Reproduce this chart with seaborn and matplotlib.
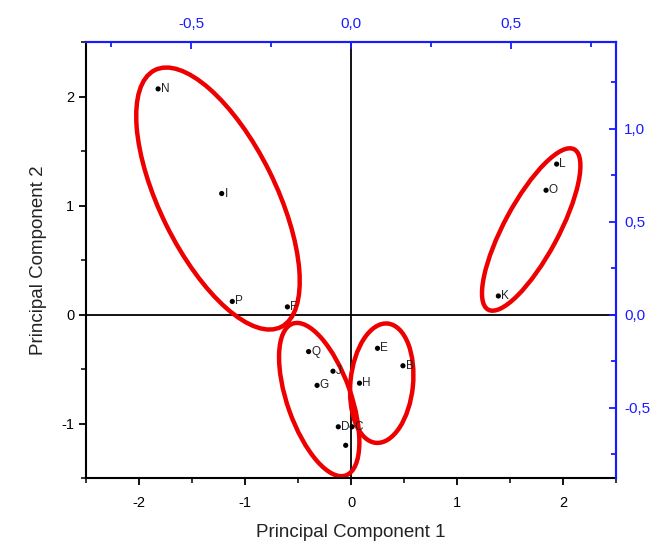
import numpy as np
import pandas as pd
import seaborn as sns
import matplotlib.pyplot as plt
from matplotlib.patches import Ellipse
from matplotlib.ticker import MultipleLocator, FuncFormatter

# sample scores on the first two principal components
labels = ['N', 'I', 'P', 'F', 'Q', 'J', 'G', 'D', 'I', 'C', 'H', 'E', 'B', 'K', 'O', 'L']
pc1 = [-1.82, -1.22, -1.12, -0.60, -0.40, -0.17, -0.32, -0.12, -0.05, 0.01, 0.08, 0.25, 0.49, 1.39, 1.84, 1.94]
pc2 = [2.07, 1.11, 0.12, 0.07, -0.34, -0.52, -0.65, -1.03, -1.20, -1.03, -0.63, -0.31, -0.47, 0.17, 1.14, 1.38]

# group ellipses: centre x, centre y, width, height, angle
ell_cx = [-1.255, -0.30, 0.29, 1.70]
ell_cy = [1.064, -0.78, -0.63, 0.78]
ell_w = [2.64, 1.48, 1.10, 1.68]
ell_h = [1.09, 0.60, 0.59, 0.51]
ell_ang = [117, 110, 84, 61]

df = pd.DataFrame({'pc1': pc1, 'pc2': pc2, 'label': labels})

sns.set_style('white')
plt.rcParams['font.family'] = ['Liberation Sans', 'DejaVu Sans']
plt.rcParams['axes.unicode_minus'] = False

fig = plt.figure(figsize=(6.57, 5.47), dpi=100)
ax = fig.add_axes([0.1309, 0.1261, 0.8067, 0.7971])

ax.axhline(0, color='black', lw=1.3, zorder=1)
ax.axvline(0, color='black', lw=1.3, zorder=1)

sns.scatterplot(data=df, x='pc1', y='pc2', color='black', s=14, edgecolor='none', ax=ax, zorder=3)
for x, y, t in zip(pc1, pc2, labels):
    ax.annotate(t, (x, y), xytext=(2, 0), textcoords='offset points', fontsize=8.5,
                color='#222222', va='center')

for cx, cy, w, h, a in zip(ell_cx, ell_cy, ell_w, ell_h, ell_ang):
    ax.add_patch(Ellipse((cx, cy), w, h, angle=a, fill=False, edgecolor='#ee0000', lw=3.2, zorder=2))

ax.set_xlim(-2.5, 2.5)
ax.set_ylim(-1.5, 2.5)
ax.xaxis.set_major_locator(MultipleLocator(1))
ax.xaxis.set_minor_locator(MultipleLocator(0.5))
ax.yaxis.set_major_locator(MultipleLocator(1))
ax.yaxis.set_minor_locator(MultipleLocator(0.5))
ax.tick_params(which='major', direction='out', length=5, width=1.3, labelsize=10.5, colors='black')
ax.tick_params(which='minor', direction='out', length=3.5, width=1.3)
ax.tick_params(axis='x', pad=8)
for s in ['left', 'bottom']:
    ax.spines[s].set_color('black')
    ax.spines[s].set_linewidth(1.5)
ax.set_xlabel('Principal Component 1', fontsize=13.5, labelpad=10, color='#222222')
ax.set_ylabel('Principal Component 2', fontsize=13.5, labelpad=10, color='#222222')

comma = FuncFormatter(lambda v, p: ('%.1f' % v).replace('.', ','))
blue = '#1a1aff'

# loadings axes (top and right)
top = ax.twiny()
top.set_xlim(-2.5 * 106 / 320, 2.5 * 106 / 320)
top.xaxis.set_major_locator(MultipleLocator(0.5))
top.xaxis.set_minor_locator(MultipleLocator(0.25))
top.xaxis.set_major_formatter(comma)
top.tick_params(which='major', direction='in', length=5, width=1.3, labelsize=11, colors=blue, pad=8)
top.tick_params(which='minor', direction='in', length=3.5, width=1.3, colors=blue)

right = ax.twinx()
right.set_ylim(-1.5 * 109 / 186, 2.5 * 109 / 186)
right.yaxis.set_major_locator(MultipleLocator(0.5))
right.yaxis.set_minor_locator(MultipleLocator(0.25))
right.yaxis.set_major_formatter(comma)
right.tick_params(which='major', direction='in', length=5, width=1.3, labelsize=11, colors=blue, pad=6)
right.tick_params(which='minor', direction='in', length=3.5, width=1.3, colors=blue)

for a in [top, right]:
    a.spines['top'].set_color(blue)
    a.spines['right'].set_color(blue)
    a.spines['top'].set_linewidth(1.5)
    a.spines['right'].set_linewidth(1.5)
    a.spines['left'].set_visible(False)
    a.spines['bottom'].set_visible(False)
ax.spines['top'].set_visible(False)
ax.spines['right'].set_visible(False)
top.yaxis.set_visible(False)

plt.savefig('out.png', dpi=100)
